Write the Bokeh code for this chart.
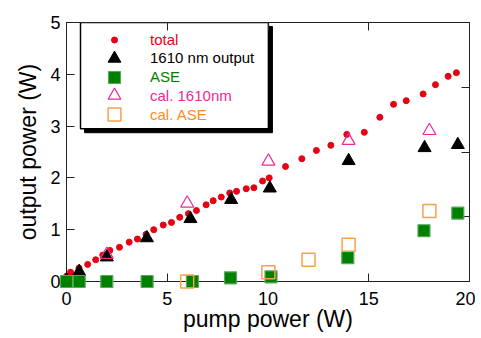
from bokeh.plotting import figure
from bokeh.models import (Range1d, LinearAxis, FixedTicker, Legend, LegendItem,
                          CustomJSTickFormatter)
from bokeh.embed import file_html
from bokeh.resources import INLINE

# ---------------- data ----------------
total_x = [0.0, 0.2, 0.62, 1.05, 1.45, 1.8, 2.15, 2.63, 3.11, 3.52, 3.95, 4.33, 4.80,
           5.21, 5.62, 6.05, 6.45, 6.93, 7.28, 7.68, 8.10, 8.44, 8.92, 9.30, 9.73,
           10.06, 10.87, 11.68, 12.40, 13.12, 13.91, 14.78, 15.55, 16.23, 16.86,
           17.70, 18.31, 18.94, 19.35]
total_y = [0.10, 0.18, 0.26, 0.33, 0.42, 0.51, 0.60, 0.66, 0.76, 0.82, 0.91, 1.00, 1.09,
           1.14, 1.24, 1.31, 1.37, 1.48, 1.56, 1.63, 1.71, 1.74, 1.79, 1.81, 1.94,
           2.00, 2.22, 2.37, 2.53, 2.63, 2.84, 2.88, 3.17, 3.42, 3.49,
           3.62, 3.80, 3.96, 4.03]

out_x = [0.0, 0.63, 2.0, 3.99, 6.15, 8.17, 10.09, 14.0, 17.77, 19.42]
out_y = [0.03, 0.19, 0.47, 0.84, 1.21, 1.58, 1.80, 2.33, 2.58, 2.64]

ase_x = [0.0, 0.63, 2.0, 4.0, 6.25, 8.14, 10.15, 13.96, 17.74, 19.42]
ase_y = [0.0, 0.0, 0.0, 0.0, 0.0, 0.07, 0.09, 0.46, 0.98, 1.32]

cal_out_x = [2.0, 5.99, 10.02, 14.0, 18.01]
cal_out_y = [0.52, 1.51, 2.32, 2.72, 2.91]

cal_ase_x = [5.99, 10.02, 12.01, 14.0, 18.01]
cal_ase_y = [0.0, 0.18, 0.42, 0.71, 1.36]

x_ticks = [0, 5, 10, 15, 20]
y_ticks = [0, 1, 2, 3, 4, 5]
right_ticks = [0, 1, 2, 3, 4]

labels = ["total", "1610 nm output", "ASE", "cal. 1610nm", "cal. ASE"]

# ---------------- style / layout ----------------
FONT = "Liberation Sans"
RED = "#e60012"
BLACK = "#000000"
GREEN = "#008000"
PINK = "#ec2a94"
ORANGE = "#f9a04a"
ORANGE_TXT = "#ff8c1a"

FW, FH = 403, 259
# legend frame (in axis units) and its drop shadow
LEG_L, LEG_R, LEG_B, LEG_T = 0.695, 10.02, 2.95, 5.0
SH_DX, SH_DY = 0.2, 0.078

p = figure(frame_width=FW, frame_height=FH,
           x_range=Range1d(0, 20), y_range=Range1d(0, 5),
           output_backend="svg", toolbar_location=None,
           min_border_left=66, min_border_top=22, min_border_right=6,
           min_border_bottom=49)
p.extra_y_ranges = {"right": Range1d(0, 4)}
p.grid.visible = False
p.outline_line_color = "#222222"
p.outline_line_width = 1
p.background_fill_color = "white"
p.border_fill_color = "white"

for ax, ticks, lab in ((p.xaxis[0], x_ticks, "pump power (W)"),
                       (p.yaxis[0], y_ticks, "output power (W)")):
    ax.ticker = FixedTicker(ticks=ticks)
    ax.axis_label = lab
    ax.axis_label_text_font = FONT
    ax.axis_label_text_font_style = "normal"
    ax.axis_label_text_font_size = "23px"
    ax.axis_label_text_color = "black"
    ax.major_label_text_font = FONT
    ax.major_label_text_font_size = "18px"
    ax.major_label_text_color = "black"
    ax.major_tick_in = 8
    ax.major_tick_out = 0
    ax.minor_tick_line_color = None
    ax.axis_line_color = "#222222"
    ax.major_tick_line_color = "#222222"

p.xaxis[0].major_label_standoff = 10
p.xaxis[0].axis_label_standoff = -2
p.yaxis[0].major_label_standoff = 6
p.yaxis[0].axis_label_standoff = 6

blank = CustomJSTickFormatter(code="return ''")
top_ax = LinearAxis(ticker=FixedTicker(ticks=x_ticks), formatter=blank,
                    major_tick_in=8, major_tick_out=0, minor_tick_line_color=None,
                    major_label_text_font_size="1px", major_label_standoff=0,
                    axis_line_color="#222222", major_tick_line_color="#222222")
right_ax = LinearAxis(y_range_name="right", ticker=FixedTicker(ticks=right_ticks),
                      formatter=blank, major_tick_in=8, major_tick_out=0,
                      minor_tick_line_color=None, major_label_text_font_size="1px",
                      major_label_standoff=0, axis_line_color="#222222",
                      major_tick_line_color="#222222")
p.add_layout(top_ax, "above")
p.add_layout(right_ax, "right")

# ---------------- legend frame with shadow ----------------
p.quad(left=[LEG_L + SH_DX], right=[LEG_R + SH_DX], top=[LEG_T - SH_DY],
       bottom=[LEG_B - SH_DY], fill_color="black", line_color="black")
p.quad(left=[LEG_L], right=[LEG_R], top=[LEG_T], bottom=[LEG_B],
       fill_color="white", line_color="black", line_width=1.5)

# ---------------- glyphs ----------------
r_total = p.scatter(total_x, total_y, marker="circle", size=6, fill_color=RED,
                    line_color=RED, level="overlay")
r_out = p.scatter(out_x, out_y, marker="triangle", size=13, fill_color=BLACK,
                  line_color=BLACK, level="overlay")
r_ase = p.scatter(ase_x, ase_y, marker="square", size=12, fill_color=GREEN,
                  line_color="#5aa85a", line_width=1.2, level="overlay")
r_cal_out = p.scatter(cal_out_x, cal_out_y, marker="triangle", size=13, fill_color=None,
                      line_color=PINK, line_width=1.2, level="overlay")
r_cal_ase = p.scatter(cal_ase_x, cal_ase_y, marker="square", size=13, fill_color=None,
                      line_color=ORANGE, line_width=1.5, level="overlay")

renderers = [r_total, r_out, r_ase, r_cal_out, r_cal_ase]
text_colors = [RED, BLACK, GREEN, PINK, ORANGE_TXT]
glyph_heights = [15, 32, 30, 32, 32]
GW = 32
for i, (r, lab, col, gh) in enumerate(zip(renderers, labels, text_colors, glyph_heights)):
    yc = 17 + 18.75 * i          # row centre, px below frame top
    H = max(gh, 18)
    leg = Legend(items=[LegendItem(label=lab, renderers=[r])],
                 location=(48 - GW / 2, FH - yc - H / 2),
                 glyph_width=GW, glyph_height=gh, label_height=gh,
                 label_standoff=20, padding=0, margin=0, spacing=0,
                 border_line_color=None, background_fill_alpha=0,
                 label_text_color=col, label_text_font=FONT,
                 label_text_font_size="15px")
    p.add_layout(leg)

open("out.html", "w").write(file_html(p, INLINE))
